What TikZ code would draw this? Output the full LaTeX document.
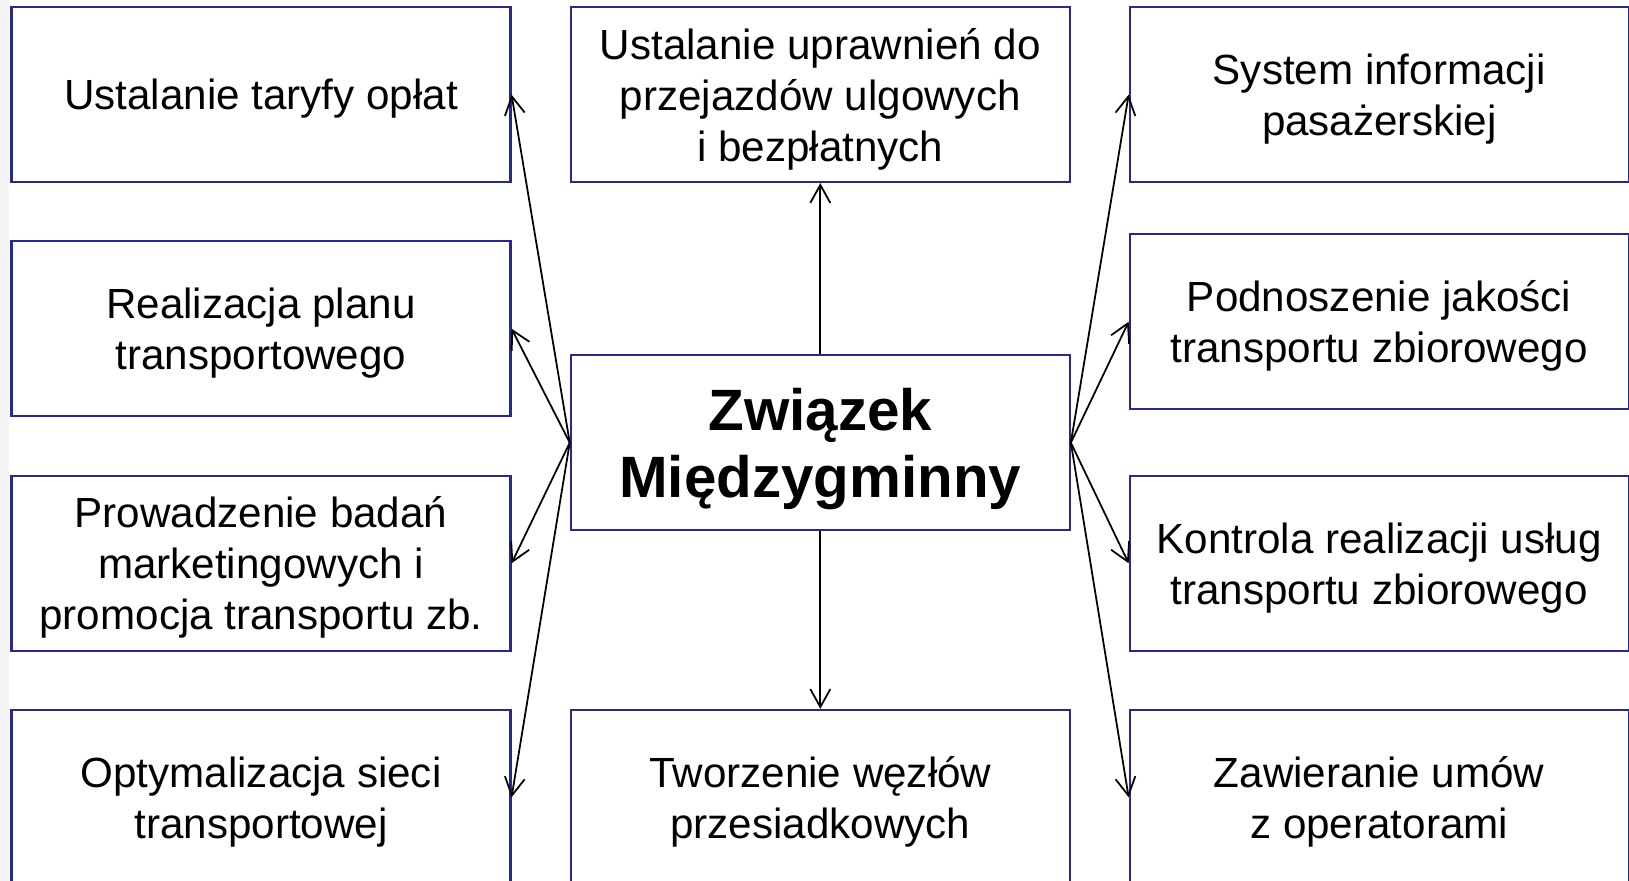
\documentclass[tikz,border=0pt]{standalone}
\usepackage{fontspec}
\setmainfont{Liberation Sans}
\usetikzlibrary{arrows.meta}
\definecolor{ramka}{RGB}{40,40,145}

\begin{document}
\begin{tikzpicture}[x=0.1mm,y=-0.1mm,
 box/.style={draw=ramka, line width=0.6pt, minimum width=49.9mm, minimum height=17.47mm, inner sep=0, text depth=-1pt, align=center, font=\fontsize{12}{14.5}\selectfont},
 glowny/.style={box, text depth=-0.6pt, font=\fontsize{16.6}{19.2}\selectfont\bfseries},
 >={Straight Barb[length=1.8mm,width=2mm]}]
\useasboundingbox (0,0) rectangle (1629,881);
\clip (0,0) rectangle (1629,881);
\fill[gray!8] (0,0) rectangle (9,881);
\node[box] (l1) at (261,94.7) {Ustalanie taryfy opłat};
\node[box] (l2) at (261,328.7) {Realizacja planu\\transportowego};
\node[box] (l3) at (261,563.3) {Prowadzenie badań\\marketingowych i\\promocja transportu zb.};
\node[box] (l4) at (261,797.3) {Optymalizacja sieci\\transportowej};
\node[box] (m1) at (820.3,94.7) {Ustalanie uprawnień do\\przejazdów ulgowych\\i bezpłatnych};
\node[glowny] (zm) at (820.3,442.7) {Związek\\Międzygminny};
\node[box] (m4) at (820.3,797.3) {Tworzenie węzłów\\przesiadkowych};
\node[box] (p1) at (1379.2,94.7) {System informacji\\pasażerskiej};
\node[box] (p2) at (1379.2,321.7) {Podnoszenie jakości\\transportu zbiorowego};
\node[box] (p3) at (1379.2,563.3) {Kontrola realizacji usług\\transportu zbiorowego};
\node[box] (p4) at (1379.2,797.3) {Zawieranie umów\\z operatorami};
\foreach \n in {l1,l2,l3,l4}
 \draw[->, line width=0.5pt] (zm.west) -- (\n.east);
\foreach \n in {p1,p2,p3,p4}
 \draw[->, line width=0.5pt] (zm.east) -- (\n.west);
\draw[->, line width=0.5pt] (zm.north) -- (m1.south);
\draw[->, line width=0.5pt] (zm.south) -- (m4.north);
\end{tikzpicture}
\end{document}
